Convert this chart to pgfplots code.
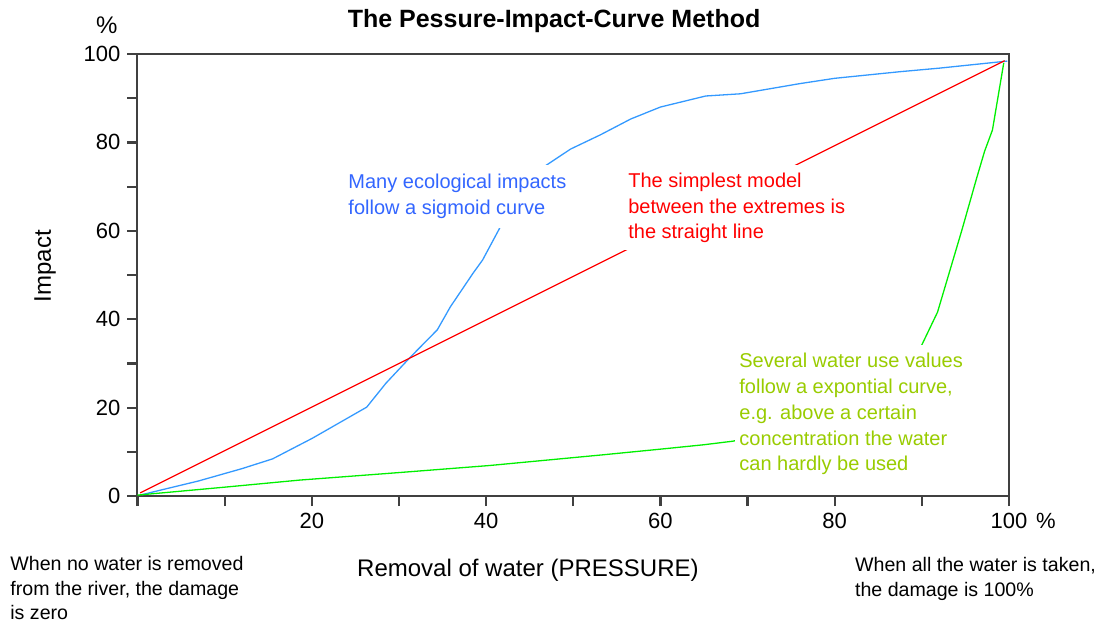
\documentclass[border=0pt]{standalone}
\usepackage{fontspec}
\setmainfont{Liberation Sans}
\usepackage{pgfplots}
\pgfplotsset{compat=1.18}
\definecolor{axgray}{RGB}{64,64,64}
\definecolor{blueline}{RGB}{51,153,255}
\definecolor{bluetext}{RGB}{51,102,255}
\definecolor{redline}{RGB}{255,0,0}
\definecolor{greenline}{RGB}{0,240,0}
\definecolor{greentext}{RGB}{153,204,0}
\begin{document}
\begin{tikzpicture}
\begin{axis}[
  at={(0,0)}, anchor=south west,
  scale only axis, width=435.75pt, height=221pt,
  xmin=0, xmax=100, ymin=0, ymax=100,
  axis line style={draw=axgray, line width=1pt},
  tick style={draw=axgray, line width=1.1pt},
  major tick style={draw=axgray, line width=1.1pt},
  minor tick style={draw=axgray, line width=1.1pt},
  xtick style={draw=axgray, line width=1.1pt},
  ytick style={draw=axgray, line width=1.1pt},
  tick align=outside,
  xtick pos=left, ytick pos=left,
  major tick length=5pt, minor tick length=5pt,
  xtick={0,20,40,60,80,100},
  xticklabels={{},20,40,60,80,{100\rlap{\hspace{0.4em}\%}}},
  minor xtick={10,30,50,70,90},
  ytick={0,20,40,60,80,100},
  minor ytick={10,30,50,70,90},
  tick label style={font=\fontsize{11}{13}\selectfont},
  /pgf/number format/assume math mode=true,
  clip=false,
]
% sigmoid
\addplot[blueline, line width=0.65pt] coordinates {
(0.5,0.3) (3,1.5) (7,3.4) (12,6.2) (15.5,8.4) (20,13) (26.3,20.1) (28.5,25.5)
(31.3,31.4) (34.4,37.6) (35.9,42.8) (38.5,50.4) (39.6,53.4) (41.8,61.5)
(44.2,68.5) (46.8,74.7) (49.7,78.5) (53.1,81.7) (56.6,85.3) (60,88)
(65.2,90.5) (69.2,91) (76,93.3) (80,94.5) (87.5,96) (92,96.8) (99.8,98.4)
};
% straight line
\addplot[redline, line width=0.6pt] coordinates {
(0.3,0.7) (99.5,98.5)
};
% exponential
\addplot[greenline, line width=0.65pt] coordinates {
(0,0.2) (10,2) (18.6,3.6) (30,5.3) (40.4,6.9) (53.3,9.3) (60,10.6) (65,11.6)
(68.3,12.4) (75,15) (82,20) (87,27) (90,34.2) (91.8,41.6) (94.6,60.2)
(96.3,72) (97.2,78) (98.1,82.8) (99.4,98)
};
% annotations
\node[anchor=north west, align=left, fill=white, inner xsep=2pt, inner ysep=4.5pt,
      text=bluetext, font=\fontsize{10}{12.9}\selectfont]
  at (axis cs:23.7,74.9) {Many ecological impacts\\follow a sigmoid curve};
\node[anchor=north west, align=left, fill=white, inner xsep=2.5pt, inner ysep=4pt,
      text=redline, font=\fontsize{10}{12.6}\selectfont]
  at (axis cs:55.7,74.9) {The simplest model\\between the extremes is\\the straight line};
\node[anchor=north west, align=left, fill=white, inner xsep=2pt, inner ysep=4pt,
      text=greentext, font=\fontsize{10}{12.9}\selectfont]
  at (axis cs:68.56,34.2) {Several water use values\\follow a expontial curve,\\e.g. above a certain\\concentration the water\\can hardly be used};
% titles and labels
\node[anchor=base, font=\bfseries\fontsize{12.5}{14}\selectfont]
  at (axis cs:47.8,106.1) {The Pessure-Impact-Curve Method};
\node[anchor=east, font=\fontsize{12}{14}\selectfont, inner sep=0pt]
  at (axis cs:-2.24,106.6) {\%};
\node[rotate=90, anchor=center, font=\fontsize{12}{14}\selectfont]
  at (axis cs:-10.6,52.0) {Impact};
\node[anchor=base, font=\fontsize{12}{14}\selectfont]
  at (axis cs:44.8,-18.1) {Removal of water (PRESSURE)};
\node[anchor=north west, align=left, inner sep=0pt, font=\fontsize{9.8}{12.3}\selectfont]
  at (axis cs:-14.63,-13.57) {When no water is removed\\from the river, the damage\\is zero};
\node[anchor=north west, align=left, inner sep=0pt, font=\fontsize{9.8}{12.3}\selectfont]
  at (axis cs:82.3,-13.8) {When all the water is taken,\\the damage is 100\%};
\end{axis}
\pgfresetboundingbox
\path[use as bounding box] (-68.75pt,-63.5pt) rectangle (480.75pt,248pt);
\end{tikzpicture}
\end{document}
